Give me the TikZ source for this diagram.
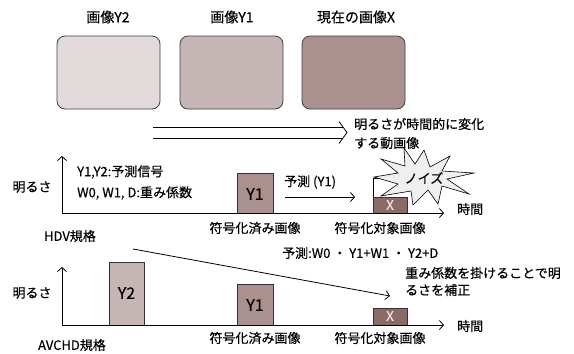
\documentclass[tikz,border=0pt]{standalone}
\usepackage{fontspec}
\setmainfont[FakeBold=0.4]{Noto Sans CJK JP}
\usetikzlibrary{arrows.meta}
\definecolor{cA}{HTML}{E3DADB}
\definecolor{cB}{HTML}{C6B5B5}
\definecolor{cC}{HTML}{AA918F}
\definecolor{cX}{HTML}{8C6B67}
\definecolor{cStar}{HTML}{EFEFEF}
\tikzset{
  pic/.style={draw=black!75, line width=0.8pt, rounded corners=8pt},
  bar/.style={draw=black!80, line width=0.8pt},
  lbl/.style={inner sep=0pt, font=\fontsize{13}{15}\selectfont},
  toplbl/.style={inner sep=0pt, font=\fontsize{14}{16}\selectfont},
  barlbl/.style={inner sep=0pt, font=\fontsize{16}{18}\selectfont},
  ax/.style={line width=0.8pt, -{Straight Barb[length=4pt,width=9pt]}},
  arr/.style={line width=0.8pt, -{Straight Barb[length=4pt,width=9pt]}},
}
\begin{document}
\begin{tikzpicture}[x=1pt,y=-1pt]
\useasboundingbox (0,0) rectangle (574,354);
% top images
\draw[pic, fill=cA] (57,36) rectangle (160,109);
\draw[pic, fill=cB] (180,36) rectangle (283,109);
\draw[pic, fill=cC] (302,36) rectangle (405,109);
\node[toplbl] (t1) at (108,17) {画像Y2};
\node[toplbl] (t2) at (232,17) {画像Y1};
\node[toplbl] (t3) at (356,17) {現在の画像X};
% double arrow
\coordinate (da1) at (153,127);
\coordinate (da2) at (343,127);
\coordinate (db1) at (153,138);
\coordinate (db2) at (343,138);
\draw[line width=0.8pt] (da1) -- (da2) (db1) -- (db2);
\draw[line width=0.8pt] (339,121.5) -- (347,132.5) -- (339,143.5);
\node[lbl, anchor=west] (m1) at (354,124) {明るさが時間的に変化};
\node[lbl, anchor=west] (m2) at (354,143) {する動画像};
% HDV
\coordinate (h0) at (62,213);
\coordinate (hy) at (62,156);
\coordinate (hx) at (444,213);
\node[lbl] (hb) at (32,187) {明るさ};
\node[lbl, anchor=west] (hl1) at (77,172) {Y1,Y2:予測信号};
\node[lbl, anchor=west] (hl2) at (77,193) {W0, W1, D:重み係数};
\draw[bar, fill=cC] (237,173) rectangle (273,213);
\node[barlbl] (hY1) at (255,194) {Y1};
\draw[line width=0.8pt, fill=white] (373,197) -- (373,178) -- (400,178);
\draw[bar, fill=cX] (373,197) rectangle (407,213);
\node[lbl, text=white!85!cX] (hX) at (390,205) {X};
\draw[line width=0.6pt, fill=cStar]
 (424,150) -- (430,167) -- (450,156) -- (442,171) -- (474,173) -- (447,179)
 -- (469,194) -- (442,186) -- (438,204) -- (428,190) -- (413,205) -- (411,191)
 -- (381,196) -- (398,184) -- (374,177) -- (398,173) -- (381,159) -- (405,166)
 -- (404,148) -- (415,164) -- cycle;
\node[lbl] (noise) at (424,178) {ノイズ};
\draw[ax] (h0) -- (hy);
\draw[ax] (h0) -- (hx);
\node[lbl, anchor=west] (ht) at (457,209) {時間};
\node[lbl, anchor=west] (hp) at (284,182) {予測 (Y1)};
\coordinate (hpa) at (285,197);
\coordinate (hpb) at (355,197);
\draw[arr] (hpa) -- (hpb);
\node[lbl] (hc1) at (255,228) {符号化済み画像};
\node[lbl] (hc2) at (380,228) {符号化対象画像};
\node[lbl] (hdv) at (70,236) {HDV規格};
% AVCHD
\coordinate (a0) at (62,325);
\coordinate (ay) at (62,267);
\coordinate (ax) at (444,325);
\draw[bar, fill=cB] (109,262) rectangle (144,325);
\node[barlbl] (aY2) at (126.5,293) {Y2};
\draw[bar, fill=cC] (237,284) rectangle (273,325);
\node[barlbl] (aY1) at (255,305) {Y1};
\draw[bar, fill=cX] (373,308) rectangle (407,325);
\node[lbl, text=white!85!cX] (aX) at (390,316) {X};
\draw[ax] (a0) -- (ay);
\draw[ax] (a0) -- (ax);
\node[lbl, anchor=west] (at) at (457,326) {時間};
\node[lbl] (ab) at (32,293) {明るさ};
\coordinate (al1) at (133,249);
\coordinate (al2) at (390,296);
\draw[arr] (al1) -- (al2);
\node[lbl, anchor=west] (af) at (282,253) {予測:W0 ・ Y1+W1 ・ Y2+D};
\node[lbl, anchor=west] (aw1) at (405,273) {重み係数を掛けることで明};
\node[lbl, anchor=west] (aw2) at (405,290) {るさを補正};
\node[lbl] (ac1) at (255,338) {符号化済み画像};
\node[lbl] (ac2) at (380,338) {符号化対象画像};
\node[lbl] (avc) at (72,345) {AVCHD規格};
\end{tikzpicture}
\end{document}
